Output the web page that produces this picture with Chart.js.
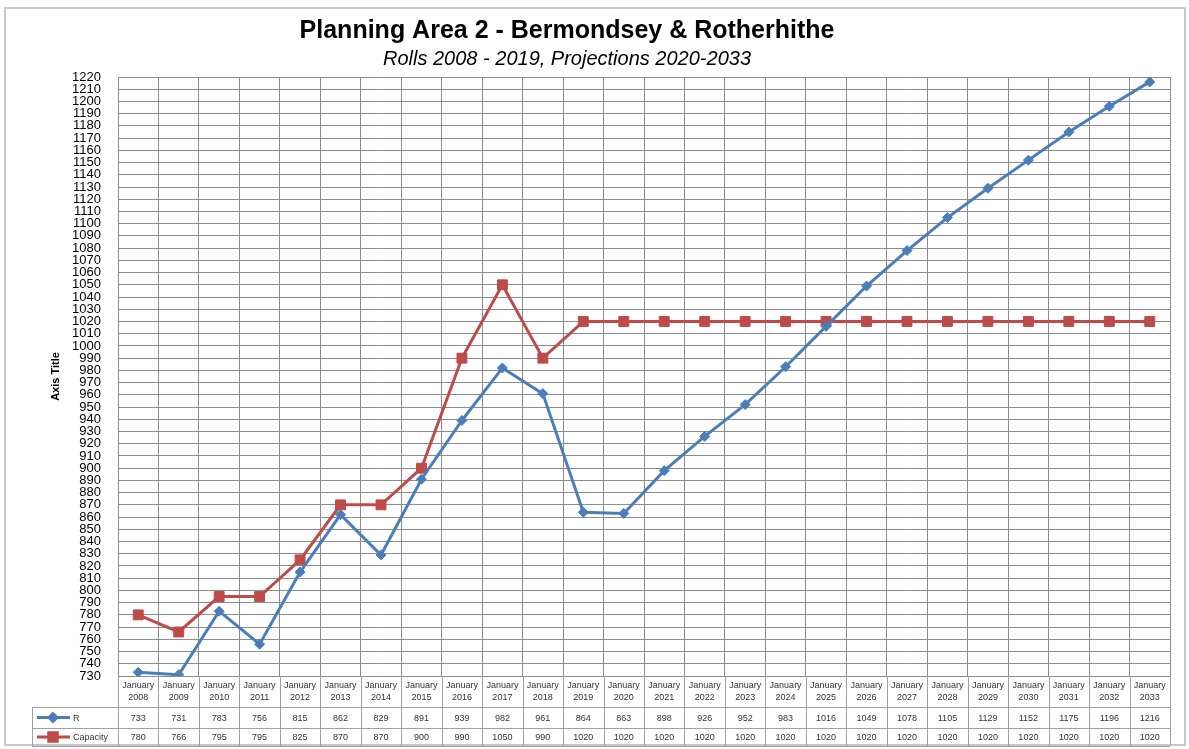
<!DOCTYPE html>
<html>
<head>
<meta charset="utf-8">
<title>Planning Area 2 - Bermondsey & Rotherhithe</title>
<script src="https://cdn.jsdelivr.net/npm/chart.js@4"></script>
<style>
  html, body { margin: 0; padding: 0; background: #fff; }
  #wrap { width: 1189px; height: 749px; position: relative; }
</style>
</head>
<body>
<div id="wrap"><canvas id="planChart"></canvas></div>
<script>
// years shown in the data table under the chart
const years = ['2008', '2009', '2010', '2011', '2012', '2013', '2014', '2015', '2016', '2017', '2018', '2019', '2020',
  '2021', '2022', '2023', '2024', '2025', '2026', '2027', '2028', '2029', '2030', '2031', '2032', '2033'];
const rolls = [733, 731, 783, 756, 815, 862, 829, 891, 939, 982, 961, 864, 863,
  898, 926, 952, 983, 1016, 1049, 1078, 1105, 1129, 1152, 1175, 1196, 1216];
const capacity = [780, 766, 795, 795, 825, 870, 870, 900, 990, 1050, 990, 1020, 1020,
  1020, 1020, 1020, 1020, 1020, 1020, 1020, 1020, 1020, 1020, 1020, 1020, 1020];
const yMin = 730;
const yMax = 1220;

const BLUE = '#4a7ebb';
const RED = '#be4b48';
const GRID = '#8c8c8c';
const FONT = '"Liberation Sans", Arial, sans-serif';

// frame, titles and the data table (Excel style) drawn around the plot
const tablePlugin = {
  id: 'tablePlugin',
  beforeDraw(chart) {
    const ctx = chart.ctx;
    ctx.save();
    ctx.fillStyle = '#fff';
    ctx.fillRect(0, 0, chart.width, chart.height);
    ctx.strokeStyle = '#c8c8c8';
    ctx.lineWidth = 2;
    ctx.strokeRect(5, 8, 1180, 737);
    ctx.restore();
  },
  afterDraw(chart) {
    const ctx = chart.ctx;
    const x = chart.scales.x;
    const area = chart.chartArea;
    const colW = (area.right - area.left) / years.length;
    const top = area.bottom;
    const rowH = [top, 707, 728, 746];
    const legLeft = 32;

    ctx.save();
    // titles
    ctx.fillStyle = '#000';
    ctx.textAlign = 'center';
    ctx.textBaseline = 'middle';
    ctx.font = 'bold 25px ' + FONT;
    ctx.fillText('Planning Area 2 - Bermondsey & Rotherhithe', 567, 31);
    ctx.font = 'italic 20px ' + FONT;
    ctx.fillText('Rolls 2008 - 2019, Projections 2020-2033', 567, 59);

    // table grid
    ctx.strokeStyle = '#a0a0a0';
    ctx.lineWidth = 1;
    ctx.beginPath();
    for (let i = 0; i <= years.length; i++) {
      const px = Math.round(area.left + i * colW) + 0.5;
      ctx.moveTo(px, top);
      ctx.lineTo(px, rowH[3]);
    }
    ctx.moveTo(legLeft + 0.5, rowH[1]);
    ctx.lineTo(legLeft + 0.5, rowH[3]);
    for (let r = 1; r < rowH.length; r++) {
      ctx.moveTo(legLeft, rowH[r] + 0.5);
      ctx.lineTo(area.right, rowH[r] + 0.5);
    }
    ctx.stroke();

    // header + values
    ctx.fillStyle = '#333';
    ctx.font = '9px ' + FONT;
    years.forEach((yr, i) => {
      const cx = x.getPixelForValue(i);
      ctx.fillText('January', cx, 686);
      ctx.fillText(yr, cx, 698);
      ctx.fillText(String(rolls[i]), cx, (rowH[1] + rowH[2]) / 2 + 1);
      ctx.fillText(String(capacity[i]), cx, (rowH[2] + rowH[3]) / 2 + 1);
    });

    // legend keys
    const keys = [
      { label: 'R', color: BLUE, y: (rowH[1] + rowH[2]) / 2, style: 'rectRot', r: 4 },
      { label: 'Capacity', color: RED, y: (rowH[2] + rowH[3]) / 2, style: 'rect', r: 6 }
    ];
    keys.forEach(k => {
      ctx.strokeStyle = k.color;
      ctx.lineWidth = 3;
      ctx.beginPath();
      ctx.moveTo(37, k.y);
      ctx.lineTo(70, k.y);
      ctx.stroke();
      ctx.fillStyle = k.color;
      Chart.helpers.drawPoint(ctx, { pointStyle: k.style, radius: k.r, borderWidth: 1 }, 53, k.y);
      ctx.fill();
      ctx.fillStyle = '#333';
      ctx.textAlign = 'left';
      ctx.fillText(k.label, 73, k.y + 1);
    });
    ctx.restore();
  }
};

const ctx = document.getElementById('planChart');
new Chart(ctx, {
  type: 'line',
  data: {
    labels: years,
    datasets: [
      {
        label: 'R',
        data: rolls,
        borderColor: BLUE,
        backgroundColor: BLUE,
        borderWidth: 3,
        pointStyle: 'rectRot',
        pointRadius: 5,
        pointBorderWidth: 1,
        tension: 0
      },
      {
        label: 'Capacity',
        data: capacity,
        borderColor: RED,
        backgroundColor: RED,
        borderWidth: 3,
        pointStyle: 'rect',
        pointRadius: 7,
        pointBorderWidth: 1,
        tension: 0
      }
    ]
  },
  options: {
    responsive: true,
    maintainAspectRatio: false,
    animation: false,
    layout: { padding: { top: 77, right: 19, bottom: 73, left: 30 } },
    plugins: {
      legend: { display: false },
      tooltip: { enabled: false }
    },
    scales: {
      x: {
        offset: true,
        ticks: { display: false },
        grid: { offset: true, color: GRID, drawTicks: false },
        border: { color: GRID },
        afterFit: s => { s.height = 0; }
      },
      y: {
        min: yMin,
        max: yMax,
        ticks: {
          stepSize: 10,
          autoSkip: false,
          color: '#000',
          padding: 17,
          font: { family: FONT, size: 13 },
          callback: v => String(v)
        },
        grid: { color: GRID, drawTicks: false },
        border: { color: GRID },
        title: {
          display: true,
          text: 'Axis Title',
          color: '#000',
          font: { family: FONT, size: 11, weight: 'bold' },
          padding: { top: 19, bottom: 0 }
        },
        afterFit: s => { s.width = 88; }
      }
    }
  },
  plugins: [tablePlugin]
});
</script>
</body>
</html>
